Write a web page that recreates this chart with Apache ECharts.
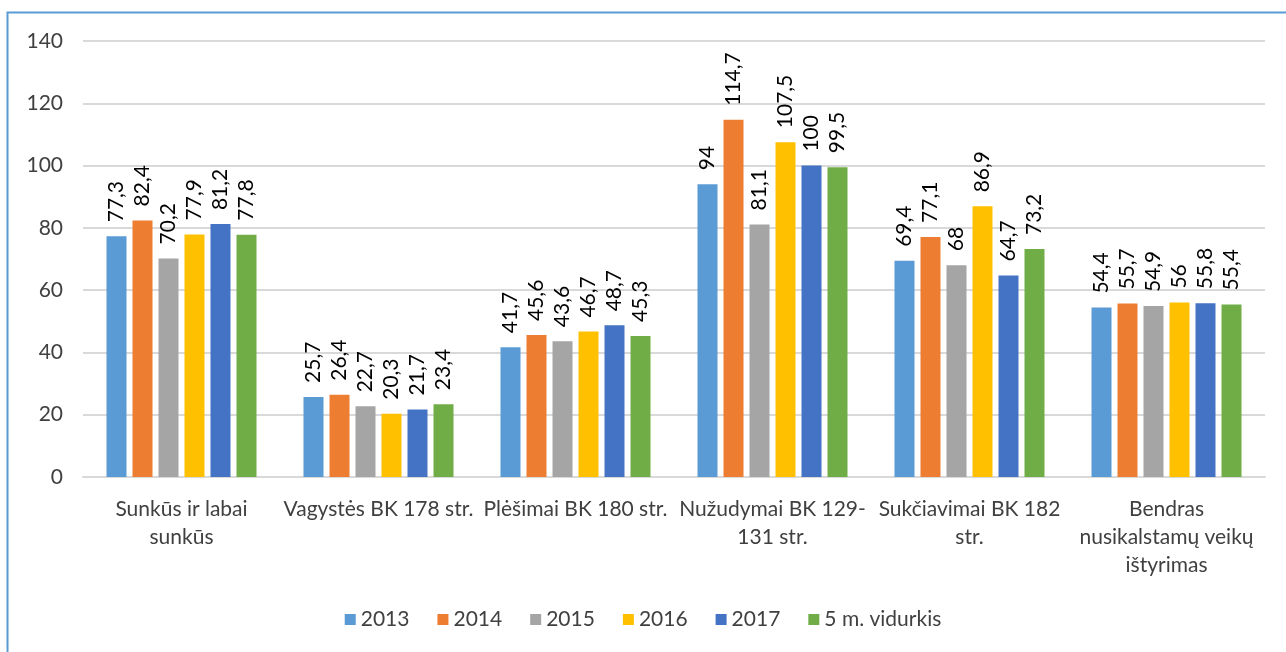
<!DOCTYPE html>
<html>
<head>
<meta charset="utf-8">
<script src="https://cdn.jsdelivr.net/npm/echarts@6/dist/echarts.min.js"></script>
<style>
  html, body { margin: 0; padding: 0; background: #fff; }
  #main { width: 1286px; height: 652px; }
</style>
</head>
<body>
<div id="main"></div>
<script>
var categories = [
    "Sunkūs ir labai\nsunkūs",
    "Vagystės BK 178 str.",
    "Plėšimai BK 180 str.",
    "Nužudymai BK 129-\n131 str.",
    "Sukčiavimai BK 182\nstr.",
    "Bendras\nnusikalstamų veikų\ništyrimas"
];
var seriesNames = ["2013", "2014", "2015", "2016", "2017", "5 m. vidurkis"];
var v2013 = [77.3, 25.7, 41.7, 94, 69.4, 54.4];
var v2014 = [82.4, 26.4, 45.6, 114.7, 77.1, 55.7];
var v2015 = [70.2, 22.7, 43.6, 81.1, 68, 54.9];
var v2016 = [77.9, 20.3, 46.7, 107.5, 86.9, 56];
var v2017 = [81.2, 21.7, 48.7, 100, 64.7, 55.8];
var vAvg = [77.8, 23.4, 45.3, 99.5, 73.2, 55.4];
var colors = ["#5B9BD5", "#ED7D31", "#A5A5A5", "#FFC000", "#4472C4", "#70AD47"];

var font = "Lato, 'Open Sans', sans-serif";
var chart = echarts.init(document.getElementById("main"));

// sukuriam serijas
var values = [v2013, v2014, v2015, v2016, v2017, vAvg];
var series = values.map(function (d, i) {
    return {
        name: seriesNames[i],
        type: 'bar',
        data: d,
        barWidth: 20,
        barGap: '30%',
        itemStyle: { color: colors[i] },
        label: {
            show: true,
            position: 'top',
            rotate: 90,
            align: 'left',
            verticalAlign: 'middle',
            distance: 14,
            fontFamily: font,
            fontSize: 21,
            color: '#000',
            formatter: function (p) { return String(p.value).replace('.', ','); }
        }
    };
});

chart.setOption({
    animation: false,
    color: colors,
    graphic: [{
        type: 'rect',
        shape: { x: 7.5, y: 12.5, width: 1400, height: 800 },
        style: { fill: 'none', stroke: '#5B9BD5', lineWidth: 2 },
        silent: true
    }],
    grid: { left: 83, right: 21, top: 41, bottom: 175, containLabel: false },
    legend: {
        data: seriesNames,
        bottom: 17,
        left: 'center',
        icon: 'rect',
        itemWidth: 11,
        itemHeight: 11,
        itemGap: 28,
        textStyle: { fontFamily: font, fontSize: 21, color: '#404040' }
    },
    xAxis: {
        type: 'category',
        data: categories,
        axisLine: { lineStyle: { color: '#d9d9d9', width: 2 } },
        axisTick: { show: false },
        axisLabel: {
            interval: 0,
            margin: 18,
            fontFamily: font,
            fontSize: 21,
            lineHeight: 28,
            color: '#404040'
        }
    },
    yAxis: {
        type: 'value',
        min: 0,
        max: 140,
        interval: 20,
        axisLine: { show: false },
        axisTick: { show: false },
        splitLine: { lineStyle: { color: '#d9d9d9', width: 2 } },
        axisLabel: { margin: 20, fontFamily: font, fontSize: 21, color: '#404040' }
    },
    series: series
});
</script>
</body>
</html>
